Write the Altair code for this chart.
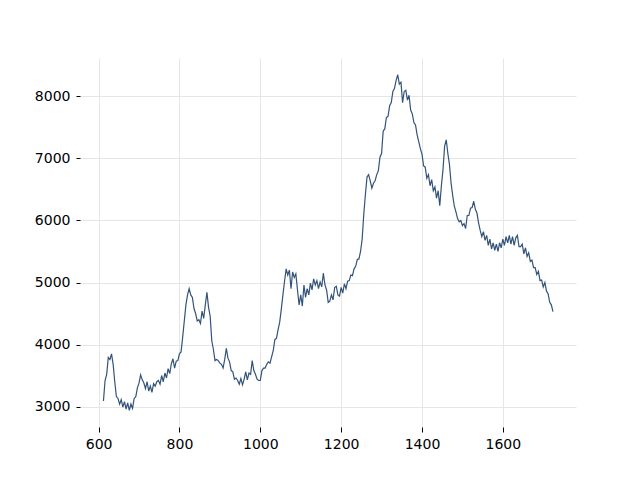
import altair as alt
import pandas as pd

x_start = 612
x_step = 4
values = [
    3090, 3420, 3520, 3790, 3760, 3850, 3680, 3400, 3160, 3130,
    3040, 3110, 2990, 3080, 2960, 3060, 2940, 3040, 2970, 3130,
    3160, 3300, 3380, 3510, 3430, 3380, 3290, 3400, 3250, 3330,
    3230, 3370, 3330, 3400, 3420, 3360, 3500, 3400, 3540, 3460,
    3610, 3530, 3690, 3770, 3620, 3730, 3740, 3850, 3880, 4120,
    4380, 4640, 4800, 4900, 4800, 4760, 4580, 4500, 4380, 4400,
    4340, 4540, 4420, 4640, 4840, 4600, 4460, 4060, 3920, 3740,
    3760, 3740, 3700, 3680, 3620, 3760, 3940, 3780, 3720, 3580,
    3560, 3440, 3460, 3420, 3360, 3450, 3350, 3440, 3560, 3430,
    3540, 3520, 3740, 3580, 3520, 3440, 3420, 3420, 3580, 3620,
    3620, 3680, 3720, 3700, 3800, 3900, 4080, 4100, 4240, 4360,
    4570, 4800, 5020, 5220, 5120, 5200, 4900, 5170, 5080, 5140,
    4880, 4640, 4800, 4620, 4960, 4760, 4900, 4800, 4990, 4880,
    5060, 4960, 5030, 4900, 5010, 4930, 5150, 4960, 4880, 4680,
    4700, 4800, 4720, 4920, 4940, 4800, 4780, 4920, 4830, 4980,
    4900, 5020, 5030, 5120, 5110, 5220, 5260, 5370, 5380, 5500,
    5700, 6100, 6420, 6700, 6740, 6640, 6520, 6600, 6640, 6740,
    6800, 7020, 7080, 7440, 7480, 7660, 7680, 7850, 7900, 8080,
    8130, 8260, 8350, 8200, 8230, 7900, 8080, 8100, 7940, 8020,
    7780, 7720, 7580, 7540, 7380, 7270, 7160, 7070, 6880, 6860,
    6680, 6740, 6560, 6660, 6480, 6540, 6360, 6480, 6240, 6560,
    6820, 7200, 7300, 7080, 6900, 6600, 6400, 6230, 6140, 6030,
    5980, 6000, 5920, 5950, 5870, 6080, 6080, 6200, 6210, 6310,
    6180, 6120, 5960, 5840, 5740, 5820, 5680, 5760, 5600, 5700,
    5540, 5640, 5520, 5620, 5500, 5640, 5560, 5700, 5600, 5740,
    5640, 5760, 5620, 5740, 5600, 5720, 5760, 5580, 5580, 5620,
    5460, 5560, 5420, 5480, 5340, 5360, 5240, 5240, 5130, 5180,
    5030, 5040, 4930, 5000, 4860, 4820, 4680, 4640, 4530,
]
x_ticks = [600, 800, 1000, 1200, 1400, 1600]
y_ticks = [3000, 4000, 5000, 6000, 7000, 8000]

df = pd.DataFrame({
    "x": [x_start + x_step * i for i in range(len(values))],
    "y": values,
})

chart = alt.Chart(df).mark_line(color="#33537a", strokeWidth=1.2).encode(
    x=alt.X("x:Q",
            scale=alt.Scale(domain=[554, 1781], nice=False, zero=False),
            axis=alt.Axis(values=x_ticks, format="d", title=None, domain=False,
                          grid=True, gridColor="#e6e6e6", gridWidth=1,
                          tickColor="#000000", tickSize=5, labelPadding=5,
                          labelFont="DejaVu Sans", labelFontSize=14,
                          labelColor="#000000")),
    y=alt.Y("y:Q",
            scale=alt.Scale(domain=[2670, 8620], nice=False, zero=False),
            axis=alt.Axis(values=y_ticks, format="d", title=None, domain=False,
                          grid=True, gridColor="#e6e6e6", gridWidth=1,
                          tickColor="#000000", tickSize=4, labelPadding=6,
                          labelFont="DejaVu Sans", labelFontSize=14,
                          labelColor="#000000")),
).properties(
    width=496,
    height=369,
    autosize=alt.AutoSizeParams(type="none"),
    padding={"left": 72, "top": 50, "right": 56, "bottom": 45},
).configure_view(stroke=None)

chart.save("out.html", embed_options={"renderer": "svg", "actions": False})
